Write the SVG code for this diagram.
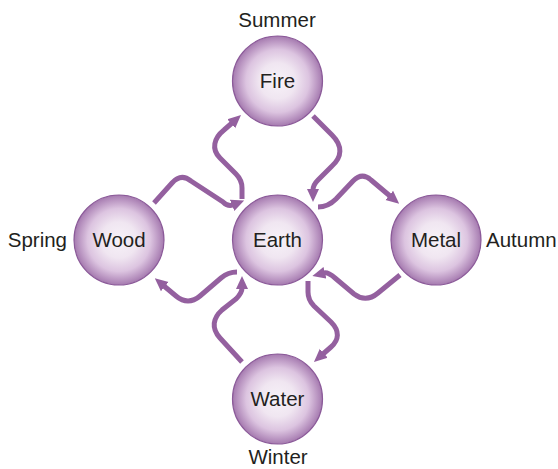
<svg xmlns="http://www.w3.org/2000/svg" width="558" height="469" viewBox="0 0 558 469">
  <defs>
    <radialGradient id="orb" cx="50%" cy="50%" r="50%">
      <stop offset="0%" stop-color="#f7f2f8"/>
      <stop offset="40%" stop-color="#f0e6f1"/>
      <stop offset="70%" stop-color="#dcc4e0"/>
      <stop offset="90%" stop-color="#b893c0"/>
      <stop offset="100%" stop-color="#a57aaf"/>
    </radialGradient>
    <marker id="ah" markerUnits="userSpaceOnUse" markerWidth="13" markerHeight="13" viewBox="0 0 13 13" refX="1" refY="6.5" orient="auto">
      <path d="M0,0.5 L13,6.5 L0,12.5 z" fill="#94609f"/>
    </marker>
  </defs>
  <style>
    .node { fill: url(#orb); stroke: #8b5a99; stroke-width: 1.2; }
    .lbl { font-family: "Liberation Sans", Arial, sans-serif; font-size: 20.5px; fill: #231f20; }
    .mid { text-anchor: middle; }
    .arr { fill: none; stroke: #94609f; stroke-width: 5; marker-end: url(#ah); }
  </style>
  <rect width="558" height="469" fill="#ffffff"/>
  <g id="connectors">
    <path class="arr" d="M154,203 L172,183 Q181,173 191,181 L223,202 Q228,207 233,205"/>
    <path class="arr" d="M242,199 L242,188 Q242,180 236,174 L220,158 C211,149 214,138 224,130 L232,123"/>
    <path class="arr" d="M313,116 L332,135 C343,146 342,157 332,166 L318,180 Q313,185 313,190"/>
    <path class="arr" d="M318,207 Q328,207 336,199 L353,181 Q362,172 371,180 L390,196"/>
    <path class="arr" d="M400,275 L378,293 Q366,303 354,294 L335,278 Q328,272 324,273"/>
    <path class="arr" d="M308,281 L308,292 Q308,300 314,306 L331,322 C340,331 339,340 331,347 L323,354"/>
    <path class="arr" d="M242,362 L220,338 C211,328 213,318 222,310 L236,299 Q242,293 242,288"/>
    <path class="arr" d="M237,272 Q228,272 221,278 L200,296 Q188,306 176,296 L164,286"/>
  </g>
  <g id="fire">
    <circle class="node" cx="277.5" cy="81" r="45"/>
    <text class="lbl mid" x="277.5" y="88">Fire</text>
  </g>
  <g id="wood">
    <circle class="node" cx="119" cy="240" r="45"/>
    <text class="lbl mid" x="119" y="247">Wood</text>
  </g>
  <g id="earth">
    <circle class="node" cx="277.5" cy="240" r="45"/>
    <text class="lbl mid" x="277.5" y="247">Earth</text>
  </g>
  <g id="metal">
    <circle class="node" cx="436" cy="240" r="45"/>
    <text class="lbl mid" x="436" y="247">Metal</text>
  </g>
  <g id="water">
    <circle class="node" cx="277.5" cy="399" r="45"/>
    <text class="lbl mid" x="277.5" y="406">Water</text>
  </g>
  <g id="seasons">
    <text class="lbl mid" x="277" y="27">Summer</text>
    <text class="lbl" x="67" y="247" text-anchor="end">Spring</text>
    <text class="lbl" x="486" y="247">Autumn</text>
    <text class="lbl mid" x="278" y="464">Winter</text>
  </g>
</svg>
